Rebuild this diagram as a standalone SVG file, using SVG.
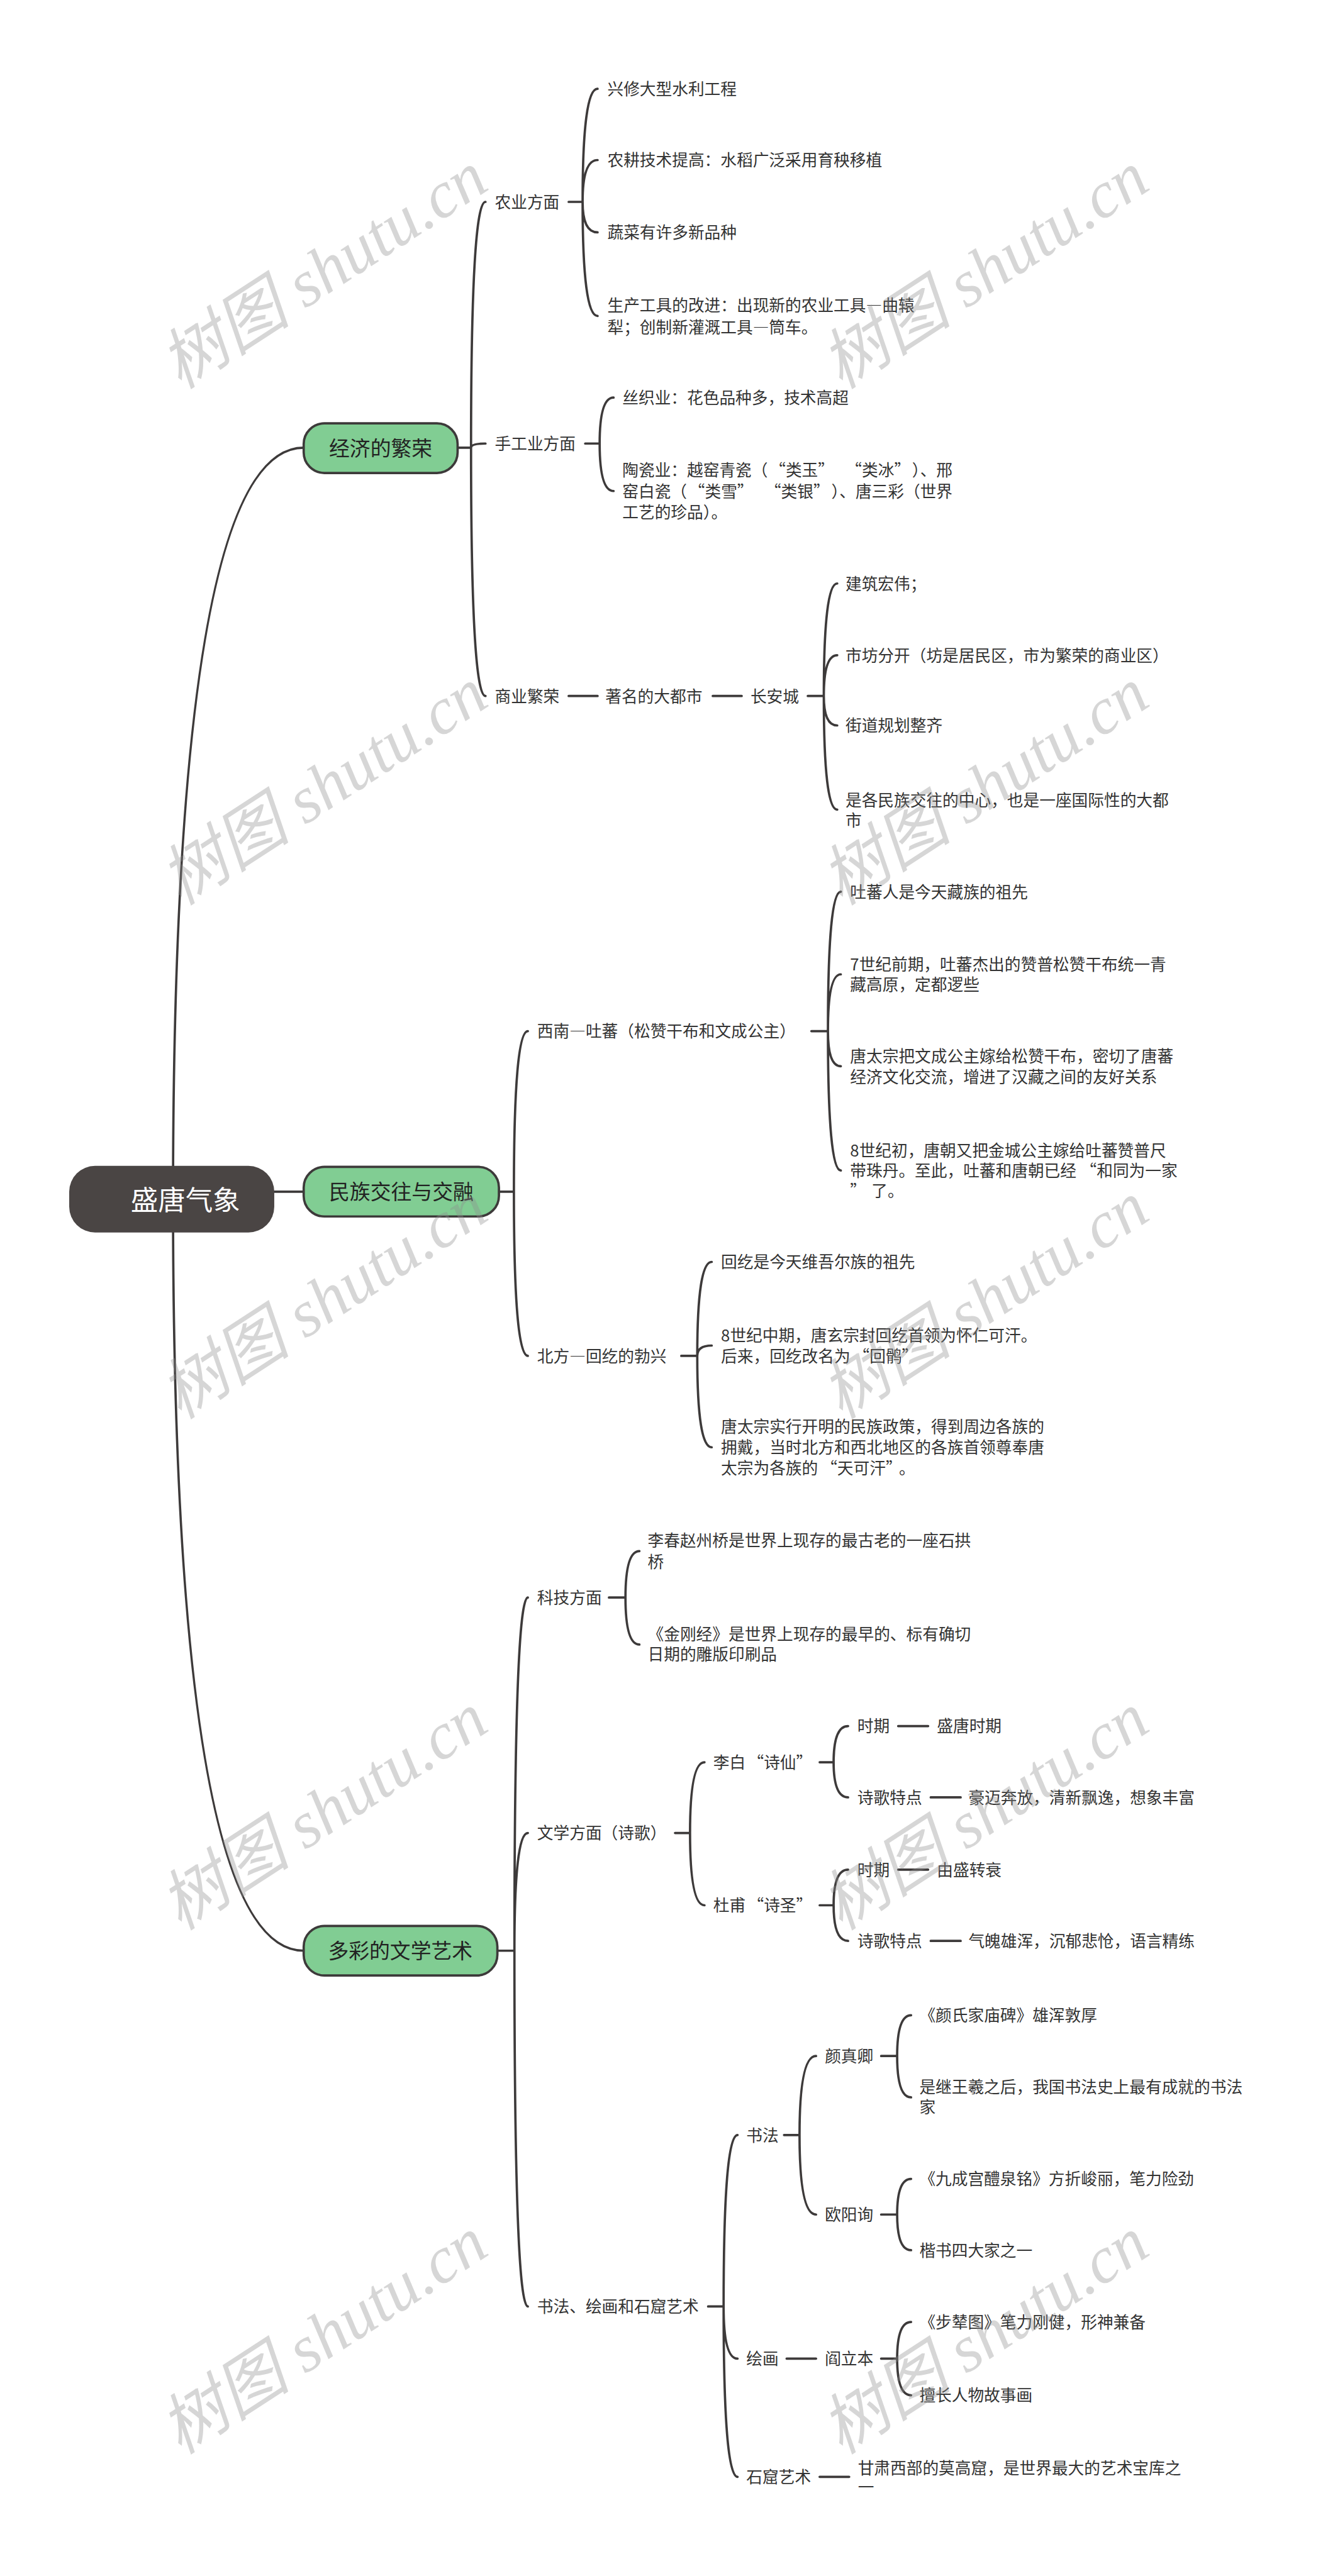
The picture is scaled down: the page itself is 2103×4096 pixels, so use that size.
<svg xmlns="http://www.w3.org/2000/svg" width="2103" height="4096" viewBox="0 0 2103 4096">
<style>
.c{fill:none;stroke:#3d3a3a;stroke-width:4.5;stroke-linecap:round}
.t{font-family:"Noto Sans CJK SC","Noto Sans CJK TC",sans-serif;font-size:31.3px;fill:#333333;font-feature-settings:"fwid" 1}
.d{font-feature-settings:normal}
.m{font-family:"Noto Sans CJK SC",sans-serif;font-size:40px;fill:#222222;text-anchor:middle}
.r{font-family:"Noto Sans CJK SC",sans-serif;font-size:53px;fill:#ffffff;text-anchor:middle}
.box{fill:#81cd93;stroke:#3d3a3a;stroke-width:4.5}
.wm{font-family:"Liberation Serif","Noto Sans CJK SC",serif;font-style:italic;font-size:128px;fill:#8c8c8c;fill-opacity:0.36;text-anchor:middle}
</style>
<rect width="2103" height="4096" fill="#ffffff"/>
<g transform="scale(0.821)">
<g id="connectors">
<path class="c" d="M335,2322 Q335,867 588,867"/>
<path class="c" d="M531,2308 L588,2308"/>
<path class="c" d="M335,2322 Q335,3778 588,3778"/>
<path class="c" d="M886,867 L912,867 M912,867 Q912,391 940,391 M912,867 Q912,859 940,859 M912,867 Q912,1348 940,1348"/>
<path class="c" d="M1101,391 L1128,391 M1128,391 Q1128,172 1157,172 M1128,391 Q1128,310 1157,310 M1128,391 Q1128,450 1157,450 M1128,391 Q1128,612 1157,612"/>
<path class="c" d="M1133,859 L1161,859 M1161,859 Q1161,770 1188,770 M1161,859 Q1161,951 1188,951"/>
<path class="c" d="M1101,1348 L1157,1348 M1380,1348 L1436,1348 M1564,1348 L1595,1348 M1595,1348 Q1595,1130 1621,1130 M1595,1348 Q1595,1269 1621,1269 M1595,1348 Q1595,1405 1621,1405 M1595,1348 Q1595,1568 1621,1568"/>
<path class="c" d="M966,2308 L995,2308 M995,2308 Q995,1997 1022,1997 M995,2308 Q995,2626 1022,2626"/>
<path class="c" d="M1571,1997 L1603,1997 M1603,1997 Q1603,1727 1628,1727 M1603,1997 Q1603,1887 1628,1887 M1603,1997 Q1603,2065 1628,2065 M1603,1997 Q1603,2267 1628,2267"/>
<path class="c" d="M1319,2626 L1350,2626 M1350,2626 Q1350,2444 1378,2444 M1350,2626 Q1350,2606 1378,2606 M1350,2626 Q1350,2803 1378,2803"/>
<path class="c" d="M963,3778 L996,3778 M996,3778 Q996,3094 1022,3094 M996,3778 Q996,3550 1022,3550 M996,3778 Q996,4467 1022,4467"/>
<path class="c" d="M1179,3094 L1211,3094 M1211,3094 Q1211,3004 1238,3004 M1211,3094 Q1211,3185 1238,3185"/>
<path class="c" d="M1307,3550 L1336,3550 M1336,3550 Q1336,3413 1364,3413 M1336,3550 Q1336,3690 1364,3690"/>
<path class="c" d="M1587,3413 L1614,3413 M1614,3413 Q1614,3343 1642,3343 M1614,3413 Q1614,3481 1642,3481 M1739,3343 L1797,3343 M1802,3481 L1860,3481"/>
<path class="c" d="M1587,3690 L1614,3690 M1614,3690 Q1614,3621 1642,3621 M1614,3690 Q1614,3759 1642,3759 M1739,3621 L1797,3621 M1802,3759 L1860,3759"/>
<path class="c" d="M1371,4467 L1401,4467 M1401,4467 Q1401,4135 1428,4135 M1401,4467 Q1401,4568 1428,4568 M1401,4467 Q1401,4797 1428,4797"/>
<path class="c" d="M1518,4135 L1548,4135 M1548,4135 Q1548,3982 1580,3982 M1548,4135 Q1548,4289 1580,4289"/>
<path class="c" d="M1706,3982 L1737,3982 M1737,3982 Q1737,3903 1764,3903 M1737,3982 Q1737,4062 1764,4062"/>
<path class="c" d="M1706,4289 L1737,4289 M1737,4289 Q1737,4220 1764,4220 M1737,4289 Q1737,4358 1764,4358"/>
<path class="c" d="M1523,4568 L1580,4568 M1706,4568 L1737,4568 M1737,4568 Q1737,4497 1764,4497 M1737,4568 Q1737,4639 1764,4639"/>
<path class="c" d="M1587,4797 L1644,4797"/>
</g>
<g id="root"><rect x="134" y="2258" width="397" height="129" rx="50" fill="#4a4544"/><text class="r" x="359" y="2344">盛唐气象</text></g>
<g id="n-jingji"><rect class="box" x="588" y="820" width="298" height="96" rx="40"/><text class="m" x="737" y="883">经济的繁荣</text></g>
<g id="n-minzu"><rect class="box" x="588" y="2260" width="378" height="96" rx="40"/><text class="m" x="777" y="2323">民族交往与交融</text></g>
<g id="n-wenyi"><rect class="box" x="588" y="3730" width="375" height="96" rx="40"/><text class="m" x="775" y="3793">多彩的文学艺术</text></g>
<g id="n-nongye"><text class="t" x="958" y="403">农业方面</text></g>
<g id="n-ny1"><text class="t" x="1176" y="184">兴修大型水利工程</text></g>
<g id="n-ny2"><text class="t" x="1176" y="322">农耕技术提高：水稻广泛采用育秧移植</text></g>
<g id="n-ny3"><text class="t" x="1176" y="462">蔬菜有许多新品种</text></g>
<g id="n-ny4"><text class="t" x="1176" y="603"><tspan x="1176">生产工具的改进：出现新的农业工具—曲辕</tspan><tspan x="1176" dy="42">犁；创制新灌溉工具—筒车。</tspan></text></g>
<g id="n-shougong"><text class="t" x="958" y="871">手工业方面</text></g>
<g id="n-sg1"><text class="t" x="1205" y="782">丝织业：花色品种多，技术高超</text></g>
<g id="n-sg2"><text class="t" x="1205" y="922"><tspan x="1205">陶瓷业：越窑青瓷（<tspan dx="19">“</tspan>类玉”<tspan dx="38">“</tspan>类冰”<tspan dx="19">）</tspan>、邢</tspan><tspan x="1205" dy="41">窑白瓷（<tspan dx="19">“</tspan>类雪”<tspan dx="38">“</tspan>类银”<tspan dx="19">）</tspan>、唐三彩（世界</tspan><tspan x="1205" dy="41">工艺的珍品）。</tspan></text></g>
<g id="n-shangye"><text class="t" x="958" y="1360">商业繁荣</text></g>
<g id="n-dushi"><text class="t" x="1172" y="1360">著名的大都市</text></g>
<g id="n-changan"><text class="t" x="1453" y="1360">长安城</text></g>
<g id="n-ca1"><text class="t" x="1637" y="1142">建筑宏伟；</text></g>
<g id="n-ca2"><text class="t" x="1637" y="1281">市坊分开（坊是居民区，市为繁荣的商业区）</text></g>
<g id="n-ca3"><text class="t" x="1637" y="1417">街道规划整齐</text></g>
<g id="n-ca4"><text class="t" x="1637" y="1561"><tspan x="1637">是各民族交往的中心，也是一座国际性的大都</tspan><tspan x="1637" dy="39">市</tspan></text></g>
<g id="n-tubo"><text class="t" x="1040" y="2009">西南—吐蕃（松赞干布和文成公主）</text></g>
<g id="n-tb1"><text class="t" x="1646" y="1739">吐蕃人是今天藏族的祖先</text></g>
<g id="n-tb2"><text class="t" x="1646" y="1879"><tspan x="1646"><tspan class="d">7</tspan>世纪前期，吐蕃杰出的赞普松赞干布统一青</tspan><tspan x="1646" dy="40">藏高原，定都逻些</tspan></text></g>
<g id="n-tb3"><text class="t" x="1646" y="2057"><tspan x="1646">唐太宗把文成公主嫁给松赞干布，密切了唐蕃</tspan><tspan x="1646" dy="40">经济文化交流，增进了汉藏之间的友好关系</tspan></text></g>
<g id="n-tb4"><text class="t" x="1646" y="2240"><tspan x="1646"><tspan class="d">8</tspan>世纪初，唐朝又把金城公主嫁给吐蕃赞普尺</tspan><tspan x="1646" dy="39">带珠丹。至此，吐蕃和唐朝已经<tspan dx="8">“</tspan>和同为一家</tspan><tspan x="1646" dy="39">”<tspan dx="10">了</tspan>。</tspan></text></g>
<g id="n-huihe"><text class="t" x="1040" y="2638">北方—回纥的勃兴</text></g>
<g id="n-hh1"><text class="t" x="1396" y="2456">回纥是今天维吾尔族的祖先</text></g>
<g id="n-hh2"><text class="t" x="1396" y="2598"><tspan x="1396"><tspan class="d">8</tspan>世纪中期，唐玄宗封回纥首领为怀仁可汗。</tspan><tspan x="1396" dy="40">后来，回纥改名为<tspan dx="6">“</tspan>回鹘”</tspan></text></g>
<g id="n-hh3"><text class="t" x="1396" y="2775"><tspan x="1396">唐太宗实行开明的民族政策，得到周边各族的</tspan><tspan x="1396" dy="40">拥戴，当时北方和西北地区的各族首领尊奉唐</tspan><tspan x="1396" dy="40">太宗为各族的<tspan dx="6">“</tspan>天可汗”<tspan dx="10">。</tspan></tspan></text></g>
<g id="n-keji"><text class="t" x="1040" y="3106">科技方面</text></g>
<g id="n-kj1"><text class="t" x="1254" y="2995"><tspan x="1254">李春赵州桥是世界上现存的最古老的一座石拱</tspan><tspan x="1254" dy="41">桥</tspan></text></g>
<g id="n-kj2"><text class="t" x="1254" y="3177"><tspan x="1254">《金刚经》是世界上现存的最早的、标有确切</tspan><tspan x="1254" dy="39">日期的雕版印刷品</tspan></text></g>
<g id="n-wenxue"><text class="t" x="1040" y="3562">文学方面（诗歌）</text></g>
<g id="n-libai"><text class="t" x="1381" y="3425">李白<tspan dx="4">“</tspan>诗仙”</text></g>
<g id="n-lb1"><text class="t" x="1660" y="3355">时期</text></g>
<g id="n-lb1a"><text class="t" x="1814" y="3355">盛唐时期</text></g>
<g id="n-lb2"><text class="t" x="1660" y="3493">诗歌特点</text></g>
<g id="n-lb2a"><text class="t" x="1875" y="3493">豪迈奔放，清新飘逸，想象丰富</text></g>
<g id="n-dufu"><text class="t" x="1381" y="3702">杜甫<tspan dx="4">“</tspan>诗圣”</text></g>
<g id="n-df1"><text class="t" x="1660" y="3633">时期</text></g>
<g id="n-df1a"><text class="t" x="1814" y="3633">由盛转衰</text></g>
<g id="n-df2"><text class="t" x="1660" y="3771">诗歌特点</text></g>
<g id="n-df2a"><text class="t" x="1875" y="3771">气魄雄浑，沉郁悲怆，语言精练</text></g>
<g id="n-shuhua"><text class="t" x="1040" y="4479">书法、绘画和石窟艺术</text></g>
<g id="n-shufa"><text class="t" x="1445" y="4147">书法</text></g>
<g id="n-yan"><text class="t" x="1597" y="3994">颜真卿</text></g>
<g id="n-yan1"><text class="t" x="1780" y="3915">《颜氏家庙碑》雄浑敦厚</text></g>
<g id="n-yan2"><text class="t" x="1780" y="4054"><tspan x="1780">是继王羲之后，我国书法史上最有成就的书法</tspan><tspan x="1780" dy="39">家</tspan></text></g>
<g id="n-ouyang"><text class="t" x="1597" y="4301">欧阳询</text></g>
<g id="n-oy1"><text class="t" x="1780" y="4232">《九成宫醴泉铭》方折峻丽，笔力险劲</text></g>
<g id="n-oy2"><text class="t" x="1780" y="4370">楷书四大家之一</text></g>
<g id="n-huihua"><text class="t" x="1445" y="4580">绘画</text></g>
<g id="n-yanliben"><text class="t" x="1597" y="4580">阎立本</text></g>
<g id="n-hh-1"><text class="t" x="1780" y="4509">《步辇图》笔力刚健，形神兼备</text></g>
<g id="n-hh-2"><text class="t" x="1780" y="4651">擅长人物故事画</text></g>
<g id="n-shiku"><text class="t" x="1445" y="4809">石窟艺术</text></g>
<g id="n-sk1"><text class="t" x="1661" y="4792"><tspan x="1661">甘肃西部的莫高窟，是世界最大的艺术宝库之</tspan><tspan x="1661" dy="36">一</tspan></text></g>
<g id="watermarks">
<text class="wm" transform="rotate(-33 650 560)" x="650" y="560">树图 shutu.cn</text>
<text class="wm" transform="rotate(-33 1930 560)" x="1930" y="560">树图 shutu.cn</text>
<text class="wm" transform="rotate(-33 650 1560)" x="650" y="1560">树图 shutu.cn</text>
<text class="wm" transform="rotate(-33 1930 1560)" x="1930" y="1560">树图 shutu.cn</text>
<text class="wm" transform="rotate(-33 650 2555)" x="650" y="2555">树图 shutu.cn</text>
<text class="wm" transform="rotate(-33 1930 2555)" x="1930" y="2555">树图 shutu.cn</text>
<text class="wm" transform="rotate(-33 650 3545)" x="650" y="3545">树图 shutu.cn</text>
<text class="wm" transform="rotate(-33 1930 3545)" x="1930" y="3545">树图 shutu.cn</text>
<text class="wm" transform="rotate(-33 650 4560)" x="650" y="4560">树图 shutu.cn</text>
<text class="wm" transform="rotate(-33 1930 4560)" x="1930" y="4560">树图 shutu.cn</text>
</g>
</g>
</svg>
